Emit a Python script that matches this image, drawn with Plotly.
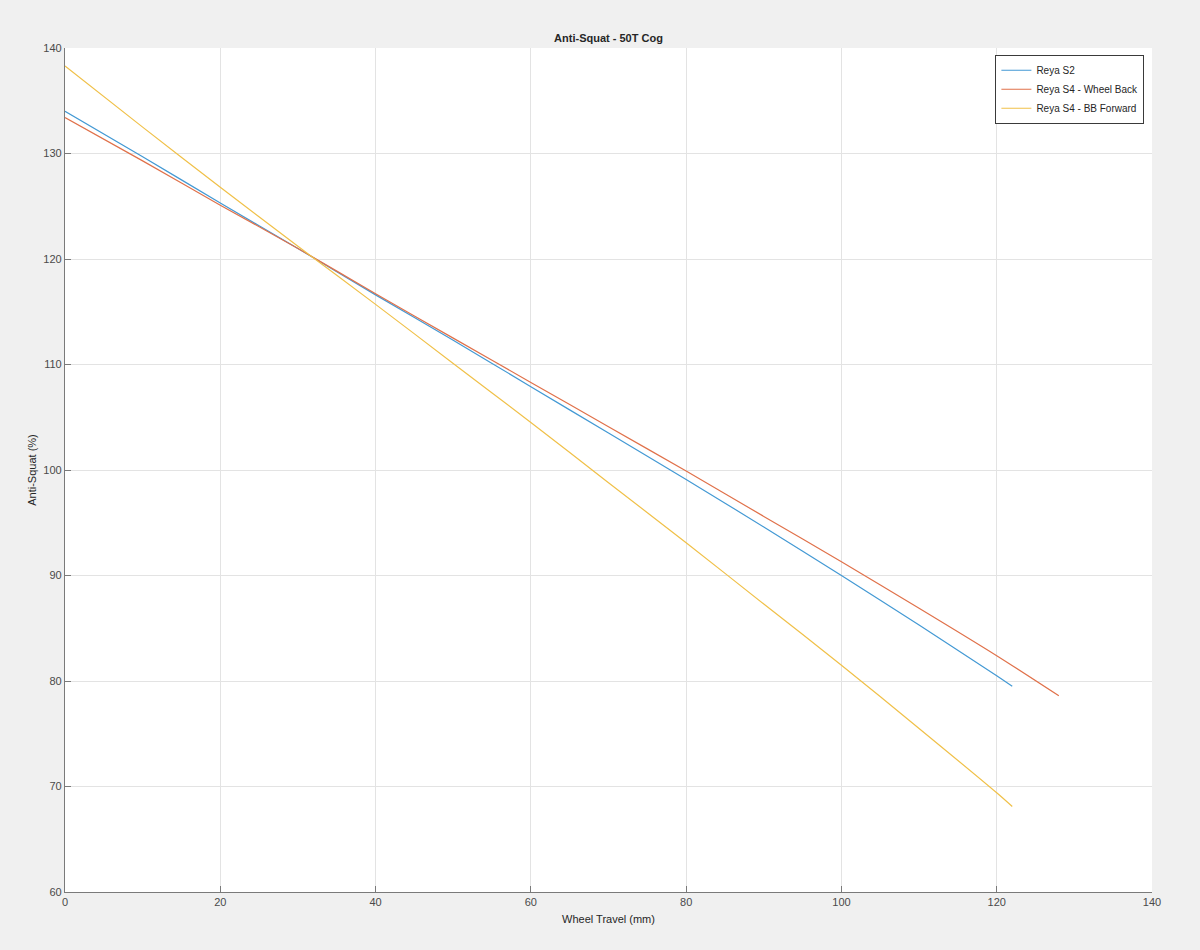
import plotly.graph_objects as go

travel_s2 = [0, 10, 20, 30, 40, 50, 60, 70, 80, 90, 100, 110, 120, 122]
as_s2 = [134.0, 129.7, 125.3, 121.0, 116.6, 112.3, 107.9, 103.5, 99.1, 94.6, 90.0, 85.3, 80.5, 79.5]

travel_s4_wb = [0, 10, 20, 30, 40, 50, 60, 70, 80, 90, 100, 110, 120, 128]
as_s4_wb = [133.4, 129.3, 125.1, 121.0, 116.7, 112.5, 108.3, 104.1, 99.9, 95.6, 91.3, 86.9, 82.4, 78.6]

travel_s4_bb = [0, 10, 20, 30, 40, 50, 60, 70, 80, 90, 100, 110, 120, 122]
as_s4_bb = [138.3, 132.5, 126.8, 121.2, 115.7, 110.1, 104.5, 98.8, 93.1, 87.3, 81.5, 75.5, 69.4, 68.1]

series_names = ["Reya S2", "Reya S4 - Wheel Back", "Reya S4 - BB Forward"]
colors = ["#4399d4", "#e0714a", "#f0c048"]

fig = go.Figure()
for xs, ys, name, c in zip([travel_s2, travel_s4_wb, travel_s4_bb],
                           [as_s2, as_s4_wb, as_s4_bb], series_names, colors):
    fig.add_trace(go.Scatter(x=xs, y=ys, mode="lines", name=name,
                             line=dict(color=c, width=1.2, shape="spline",
                                       smoothing=0.8)))

axis_common = dict(
    showgrid=True, gridcolor="#e3e3e3", gridwidth=1,
    showline=True, linecolor="#7a7a7a", linewidth=1.2,
    ticks="inside", ticklen=6, tickcolor="#7a7a7a",
    tickfont=dict(family="Liberation Sans, Arial", size=11, color="#4a4a4a"),
    zeroline=False, mirror=False,
)

fig.update_layout(
    width=1200, height=950,
    paper_bgcolor="#f0f0f0", plot_bgcolor="white",
    margin=dict(l=65, r=48, t=48, b=58),
    font=dict(family="Liberation Sans, Arial", size=11, color="#262626"),
    title=dict(text="<b>Anti-Squat - 50T Cog</b>", x=0.5, xref="paper",
               y=1 - 38 / 950, yref="container", yanchor="middle",
               font=dict(size=11, color="#262626")),
    xaxis=dict(range=[0, 140], dtick=20,
               title=dict(text="Wheel Travel (mm)", standoff=8,
                          font=dict(size=11, color="#262626")),
               **axis_common),
    yaxis=dict(range=[60, 140], dtick=10,
               title=dict(text="Anti-Squat (%)", standoff=4,
                          font=dict(size=11, color="#262626")),
               **axis_common),
    legend=dict(x=0.993, y=0.992, xanchor="right", yanchor="top",
                bgcolor="white", bordercolor="#3a3a3a", borderwidth=1,
                font=dict(size=10, color="#262626"),
                itemwidth=30, tracegroupgap=0),
    showlegend=True,
)

fig.write_html(
    "out.html",
    config={"displayModeBar": False},
    post_script="document.body.style.margin='0';document.body.style.padding='0';"
                "document.body.style.background='#f0f0f0';"
                "document.documentElement.style.overflow='hidden';",
)
